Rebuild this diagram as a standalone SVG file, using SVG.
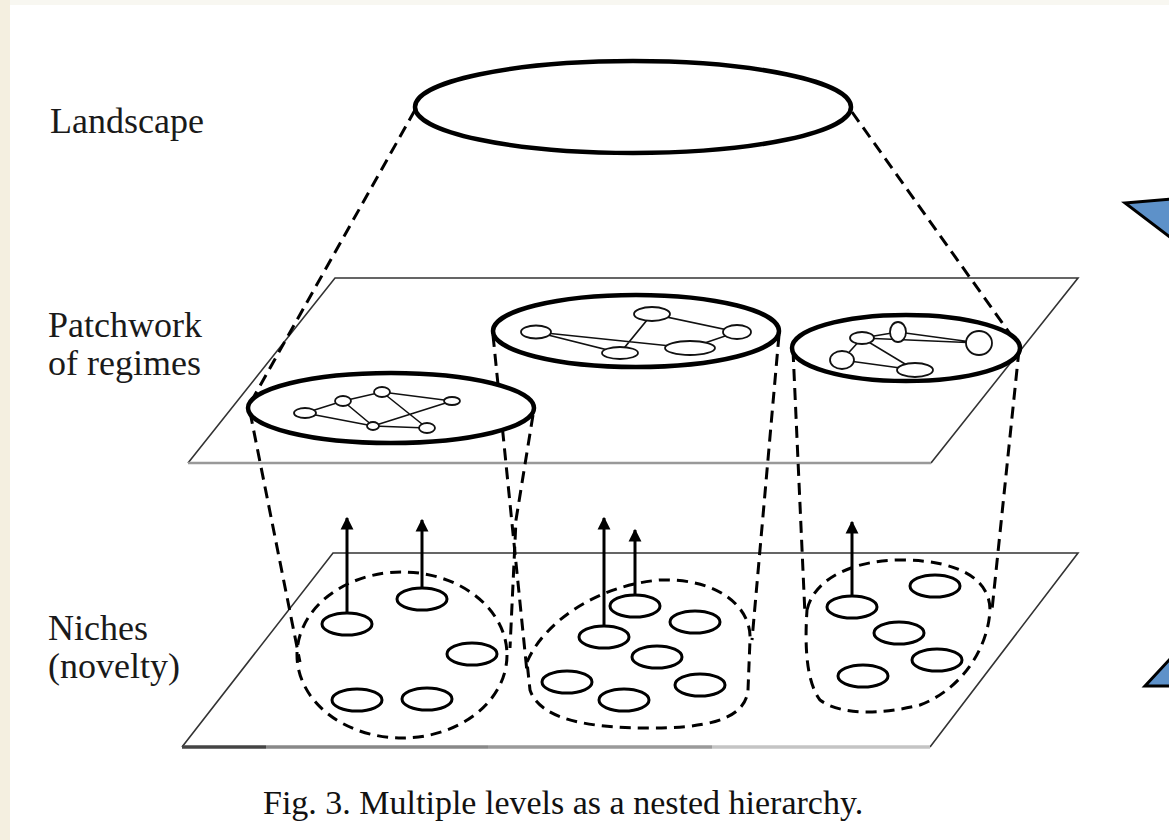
<svg xmlns="http://www.w3.org/2000/svg" width="1169" height="840" viewBox="0 0 1169 840">
<style>
.lbl{font-family:"Liberation Serif","Times New Roman",serif;font-size:36px;fill:#1a1a1a}
.cap{font-family:"Liberation Serif","Times New Roman",serif;font-size:34px;fill:#111}
.big{fill:#fff;stroke:#000;stroke-width:4.5}
.reg{fill:#fff;stroke:#000;stroke-width:4.5}
.dash{fill:none;stroke:#000;stroke-width:3;stroke-dasharray:12 7}
.niche{fill:none;stroke:#000;stroke-width:3;stroke-dasharray:11 7}
.nd{fill:#fff;stroke:#000;stroke-width:3}
.net{fill:none;stroke:#111;stroke-width:1.6}
.nn{fill:#fff;stroke:#111;stroke-width:1.8}
.pl{fill:none;stroke:#333;stroke-width:1.6}
.arr{stroke:#000;stroke-width:3;marker-end:url(#ah)}
.blue{fill:#5d91c9;stroke:#000;stroke-width:3;stroke-linejoin:miter}
</style>
<defs>
<marker id="ah" viewBox="0 0 10 10" refX="9" refY="5" markerWidth="4.3" markerHeight="4.8" orient="auto" markerUnits="strokeWidth">
<path d="M0,0 L10,5 L0,10 Z" fill="#000"/>
</marker>
</defs>
<rect x="0" y="0" width="1169" height="840" fill="#fff"/>
<rect x="0" y="0" width="1169" height="5" fill="#f8f7f1"/>
<rect x="0" y="0" width="10" height="840" fill="#f4efe0"/>

<g id="labels">
<text class="lbl" x="50" y="133">Landscape</text>
<text class="lbl" x="48" y="337">Patchwork</text>
<text class="lbl" x="48" y="375">of regimes</text>
<text class="lbl" x="48" y="640">Niches</text>
<text class="lbl" x="48" y="678">(novelty)</text>
<text class="cap" x="263" y="814">Fig. 3. Multiple levels as a nested hierarchy.</text>
</g>

<g id="planes">
<path class="pl" d="M188,463 L335,278 L1078,278 L931,463"/>
<line x1="188" y1="463" x2="931" y2="463" stroke="#999" stroke-width="2.5"/>
<path class="pl" d="M182,747 L333,553 L1078,553 L930,747"/>
<line x1="182" y1="747" x2="266" y2="747" stroke="#444" stroke-width="3.5"/>
<line x1="266" y1="747" x2="488" y2="747" stroke="#888" stroke-width="3.5"/>
<line x1="488" y1="747" x2="712" y2="747" stroke="#9a9a9a" stroke-width="3.5"/>
<line x1="712" y1="747" x2="930" y2="747" stroke="#c4c4c4" stroke-width="3.5"/>
</g>

<g id="connectors">
<line class="dash" x1="415" y1="110" x2="252" y2="400"/>
<line class="dash" x1="852" y1="112" x2="1018" y2="345"/>
<path class="dash" d="M250,412 L300,662"/>
<path class="dash" d="M533,415 L516,520 L510,648"/>
<path class="dash" d="M493,335 L527,672"/>
<path class="dash" d="M779,335 L752,640"/>
<path class="dash" d="M793,350 L805,615"/>
<path class="dash" d="M1019,350 L992,610"/>
<line class="arr" x1="347" y1="624" x2="347" y2="518"/>
<line class="arr" x1="422" y1="599" x2="422" y2="520"/>
<line class="arr" x1="604" y1="637" x2="604" y2="518"/>
<line class="arr" x1="635" y1="606" x2="635" y2="530"/>
<line class="arr" x1="852" y1="607" x2="852" y2="522"/>
</g>

<g id="landscape">
<ellipse class="big" cx="633" cy="107" rx="218" ry="46"/>
</g>

<g id="regime-left">
<ellipse class="reg" cx="391" cy="408" rx="143" ry="35"/>
<path class="net" d="M305,413 L343,401 L382,392 L452,401 M343,401 L373,426 M382,392 L427,428 M305,413 L373,426 L427,428 M452,401 L373,426"/>
<ellipse class="nn" cx="305" cy="413" rx="11" ry="5"/>
<ellipse class="nn" cx="343" cy="401" rx="8" ry="5"/>
<ellipse class="nn" cx="382" cy="392" rx="8" ry="5"/>
<ellipse class="nn" cx="452" cy="401" rx="8" ry="4"/>
<ellipse class="nn" cx="373" cy="426" rx="6" ry="4"/>
<ellipse class="nn" cx="427" cy="428" rx="8" ry="5"/>
</g>

<g id="regime-middle">
<ellipse class="reg" cx="636" cy="331" rx="143" ry="36"/>
<path class="net" d="M536,332 L620,353 L652,314 L737,332 L690,348 M536,332 L690,348"/>
<ellipse class="nn" cx="536" cy="332" rx="15" ry="6.5"/>
<ellipse class="nn" cx="652" cy="314" rx="18" ry="7"/>
<ellipse class="nn" cx="737" cy="332" rx="14" ry="7"/>
<ellipse class="nn" cx="620" cy="353" rx="18" ry="6"/>
<ellipse class="nn" cx="690" cy="348" rx="25" ry="7"/>
</g>

<g id="regime-right">
<ellipse class="reg" cx="906" cy="348" rx="114" ry="33"/>
<path class="net" d="M862,338 L898,332 L979,343 M862,338 L979,343 M842,360 L862,338 L915,370 M842,360 L915,370"/>
<ellipse class="nn" cx="862" cy="338" rx="12" ry="6"/>
<ellipse class="nn" cx="898" cy="332" rx="8" ry="10"/>
<ellipse class="nn" cx="979" cy="343" rx="13" ry="12"/>
<ellipse class="nn" cx="842" cy="360" rx="12" ry="9"/>
<ellipse class="nn" cx="915" cy="370" rx="18" ry="7"/>
</g>

<g id="niche-left">
<ellipse class="niche" cx="402" cy="655" rx="105" ry="83"/>
<ellipse class="nd" cx="347" cy="624" rx="25" ry="11"/>
<ellipse class="nd" cx="422" cy="599" rx="25" ry="11"/>
<ellipse class="nd" cx="472" cy="654" rx="25" ry="11"/>
<ellipse class="nd" cx="357" cy="700" rx="25" ry="11"/>
<ellipse class="nd" cx="427" cy="699" rx="25" ry="11"/>
</g>

<g id="niche-middle">
<path class="niche" d="M527,662 C545,620 600,585 660,580 C722,578 752,610 750,640 L748,690 C745,722 700,728 650,728 C590,728 540,720 530,690 Z"/>
<ellipse class="nd" cx="635" cy="606" rx="25" ry="11"/>
<ellipse class="nd" cx="604" cy="637" rx="25" ry="11"/>
<ellipse class="nd" cx="695" cy="622" rx="25" ry="11"/>
<ellipse class="nd" cx="657" cy="657" rx="25" ry="11"/>
<ellipse class="nd" cx="567" cy="682" rx="25" ry="11"/>
<ellipse class="nd" cx="624" cy="700" rx="25" ry="11"/>
<ellipse class="nd" cx="700" cy="685" rx="25" ry="11"/>
</g>

<g id="niche-right">
<path class="niche" d="M807,610 C815,575 860,560 900,560 C960,560 990,580 990,610 C988,650 960,690 920,705 C880,715 840,715 820,700 C805,680 805,640 807,610 Z"/>
<ellipse class="nd" cx="852" cy="607" rx="25" ry="11"/>
<ellipse class="nd" cx="935" cy="586" rx="25" ry="11"/>
<ellipse class="nd" cx="899" cy="633" rx="25" ry="11"/>
<ellipse class="nd" cx="937" cy="660" rx="25" ry="11"/>
<ellipse class="nd" cx="863" cy="676" rx="25" ry="11"/>
</g>

<g id="blue-arrow">
<polygon class="blue" points="1125,203 1171,199 1171,238"/>
<polygon class="blue" points="1145,686 1171,658 1171,686"/>
</g>
</svg>
